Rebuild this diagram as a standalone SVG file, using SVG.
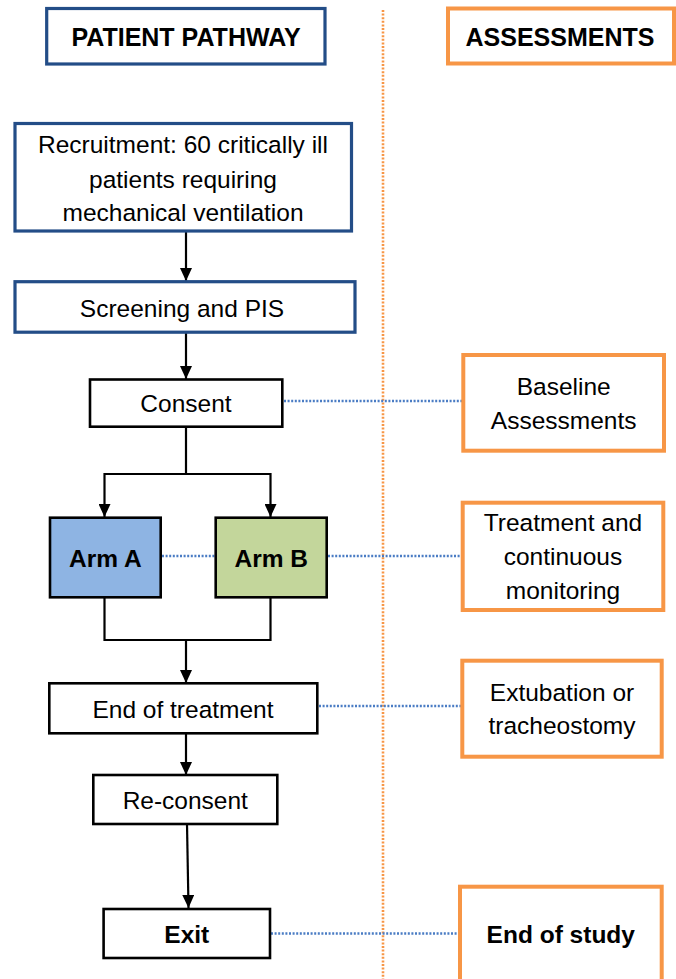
<svg xmlns="http://www.w3.org/2000/svg" width="676" height="979" viewBox="0 0 676 979">
<style>
text{font-family:"Liberation Sans",Arial,Helvetica,sans-serif;font-size:24.5px;fill:#000;text-anchor:middle}
.b{font-weight:bold}
.navy{fill:#fff;stroke:#234d87;stroke-width:3.2}
.org{fill:#fff;stroke:#f79646;stroke-width:4}
.blk{stroke:#000;stroke-width:2.6}
.conn{fill:none;stroke:#000;stroke-width:2.2}
.dot{fill:none;stroke:#4a7cc4;stroke-width:2.4;stroke-dasharray:2 1.6}
.sep{fill:none;stroke:#f79646;stroke-width:2.6;stroke-dasharray:2 1.6}
</style>
<defs>
<marker id="ah" viewBox="0 0 13 12" refX="13" refY="6" markerWidth="13" markerHeight="12" markerUnits="userSpaceOnUse" orient="auto">
<path d="M0,0 L13,6 L0,12 z" fill="#000"/>
</marker>
</defs>
<rect width="676" height="979" fill="#fff"/>
<g id="separator">
<line class="sep" x1="383" y1="10" x2="383" y2="979"/>
</g>
<g id="connectors">
<line class="conn" x1="186" y1="232" x2="186" y2="281" marker-end="url(#ah)"/>
<line class="conn" x1="186" y1="333" x2="186" y2="379" marker-end="url(#ah)"/>
<path class="conn" d="M186,427 V474 M104.5,474 H270.5"/>
<line class="conn" x1="104.5" y1="473" x2="104.5" y2="517" marker-end="url(#ah)"/>
<line class="conn" x1="270.5" y1="473" x2="270.5" y2="517" marker-end="url(#ah)"/>
<path class="conn" d="M104.5,597 V640 H270.5 V597"/>
<line class="conn" x1="186" y1="639" x2="186" y2="683" marker-end="url(#ah)"/>
<line class="conn" x1="186" y1="733" x2="186" y2="775" marker-end="url(#ah)"/>
<line class="conn" x1="187" y1="824" x2="188.5" y2="908" marker-end="url(#ah)"/>
<line class="dot" x1="284" y1="401" x2="462" y2="401"/>
<line class="dot" x1="162" y1="556" x2="215" y2="556"/>
<line class="dot" x1="328" y1="556" x2="461" y2="556"/>
<line class="dot" x1="319" y1="706" x2="461" y2="706"/>
<line class="dot" x1="271" y1="933.5" x2="458" y2="933.5"/>
</g>
<g id="header-pathway">
<rect class="navy" x="46.7" y="8.5" width="278.3" height="55.5"/>
<text class="b" x="186" y="45.5" style="font-size:25px">PATIENT PATHWAY</text>
</g>
<g id="header-assessments">
<rect class="org" x="448" y="8.5" width="226" height="55"/>
<text class="b" x="560" y="45.5" style="font-size:25px">ASSESSMENTS</text>
</g>
<g id="recruitment">
<rect class="navy" x="15" y="123.5" width="336.5" height="107.5"/>
<text x="183" y="153.3">Recruitment: 60 critically ill</text>
<text x="183" y="188">patients requiring</text>
<text x="183" y="220.7">mechanical ventilation</text>
</g>
<g id="screening">
<rect class="navy" x="15" y="281.7" width="340" height="50.5"/>
<text x="182" y="316.7">Screening and PIS</text>
</g>
<g id="consent">
<rect class="blk" fill="#fff" x="90" y="379.5" width="192.3" height="47.2"/>
<text x="186" y="412">Consent</text>
</g>
<g id="arm-a">
<rect class="blk" fill="#8eb4e3" x="50" y="517.7" width="110.7" height="79.6"/>
<text class="b" x="105.3" y="567">Arm A</text>
</g>
<g id="arm-b">
<rect class="blk" fill="#c3d69b" x="215.7" y="517.7" width="111" height="79.6"/>
<text class="b" x="271.2" y="567">Arm B</text>
</g>
<g id="end-of-treatment">
<rect class="blk" fill="#fff" x="49.3" y="683.3" width="268" height="50"/>
<text x="183" y="717.7">End of treatment</text>
</g>
<g id="re-consent">
<rect class="blk" fill="#fff" x="93.3" y="775" width="184" height="49"/>
<text x="185.3" y="809">Re-consent</text>
</g>
<g id="exit">
<rect class="blk" fill="#fff" x="103.6" y="909" width="166.4" height="49"/>
<text class="b" x="186.8" y="943">Exit</text>
</g>
<g id="baseline">
<rect class="org" x="463.3" y="355" width="200.7" height="95.7"/>
<text x="563.7" y="395">Baseline</text>
<text x="563.7" y="429">Assessments</text>
</g>
<g id="treatment-monitoring">
<rect class="org" x="462.7" y="502.7" width="200.6" height="107.3"/>
<text x="563" y="530.7">Treatment and</text>
<text x="563" y="564.5">continuous</text>
<text x="563" y="598.5">monitoring</text>
</g>
<g id="extubation">
<rect class="org" x="462.3" y="660.7" width="199.4" height="96"/>
<text x="562" y="700.7">Extubation or</text>
<text x="562" y="734">tracheostomy</text>
</g>
<g id="end-of-study">
<rect class="org" x="460" y="886.7" width="201.7" height="100"/>
<text class="b" x="560.8" y="943">End of study</text>
</g>
</svg>
